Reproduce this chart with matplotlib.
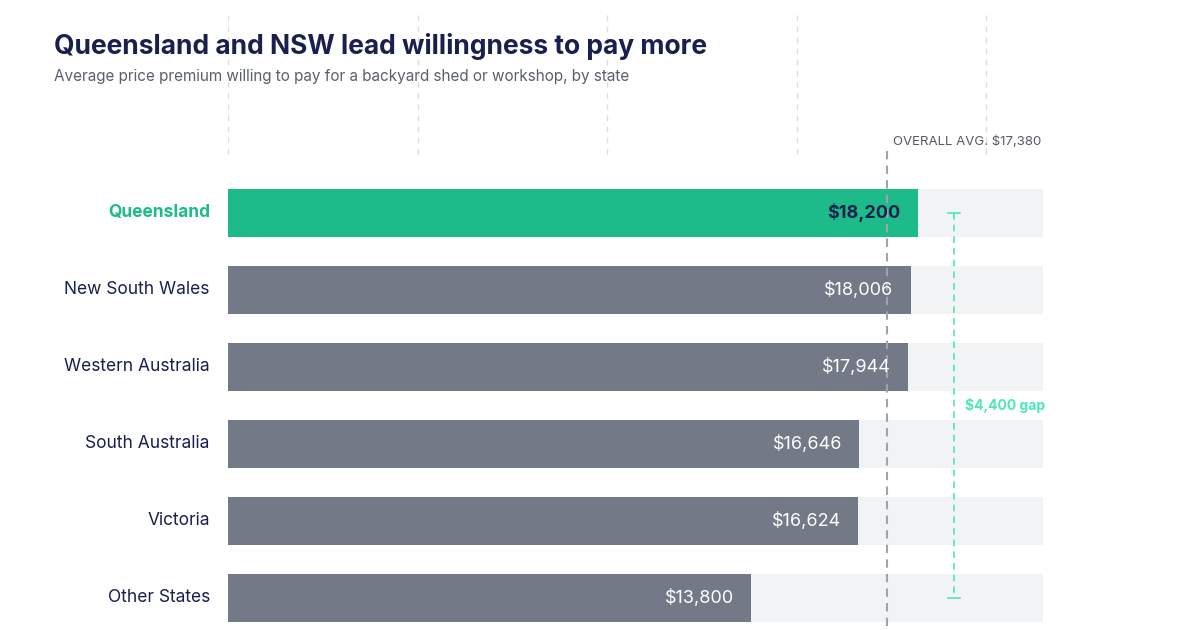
import matplotlib.pyplot as plt

states = ["Queensland", "New South Wales", "Western Australia", "South Australia", "Victoria", "Other States"]
values = [18200, 18006, 17944, 16646, 16624, 13800]
overall_avg = 17380
track_max = 21500
grid_ticks = [0, 5000, 10000, 15000, 20000]

plt.rcParams['font.family'] = ['Inter', 'DejaVu Sans']
fig = plt.figure(figsize=(12, 6.3), dpi=100)
ax = fig.add_axes([228 / 1200, 0, 815 / 1200, 1])
ax.set_xlim(0, track_max)
ax.set_ylim(5.416, -2.766)
ax.axis('off')

navy = "#1a1f4e"
green = "#1dbb8a"
grey = "#737987"

for g in grid_ticks:
    ax.plot([g, g], [-2.57, -0.7], color="#dcdde3", lw=1, ls=(0, (4, 4)), zorder=0)

for i, (s, v) in enumerate(zip(states, values)):
    ax.barh(i, track_max, height=0.62, color="#f2f3f5", zorder=1)
    c = green if i == 0 else grey
    ax.barh(i, v, height=0.62, color=c, zorder=2)
    ax.text(v - 450, i, f"${v:,}", ha='right', va='center', zorder=4,
            color=navy if i == 0 else "white", fontsize=13,
            fontweight='bold' if i == 0 else 'normal')
    ax.text(-480, i, s, ha='right', va='center', fontsize=12.5,
            color=green if i == 0 else navy, fontweight='bold' if i == 0 else 'normal')

ax.plot([overall_avg, overall_avg], [-0.8, 5.42], color="#a0a3ab", lw=1.5, ls=(0, (4, 3)), zorder=3)
ax.text(overall_avg + 150, -0.93, f"OVERALL AVG. ${overall_avg:,}", fontsize=9.5,
        color="#555a66", va='center', ha='left')

gx = 19150
gap = values[0] - values[-1]
ax.plot([gx, gx], [0, 5], color="#4de8b8", lw=1.2, ls=(0, (4, 3)), zorder=3)
for yy in [0, 5]:
    ax.plot([gx - 150, gx + 150], [yy, yy], color="#4de8b8", lw=1.2, zorder=3)
ax.text(gx + 300, 2.5, f"${gap:,} gap", color="#4de8b8", fontsize=10, fontweight='bold', va='center')

fig.text(54 / 1200, 1 - 47 / 630, "Queensland and NSW lead willingness to pay more",
         fontsize=19, fontweight='bold', color=navy, va='center')
fig.text(54 / 1200, 1 - 77 / 630, "Average price premium willing to pay for a backyard shed or workshop, by state",
         fontsize=11, color="#5a5f6e", va='center')

fig.savefig("out.png", dpi=100, facecolor="white")
